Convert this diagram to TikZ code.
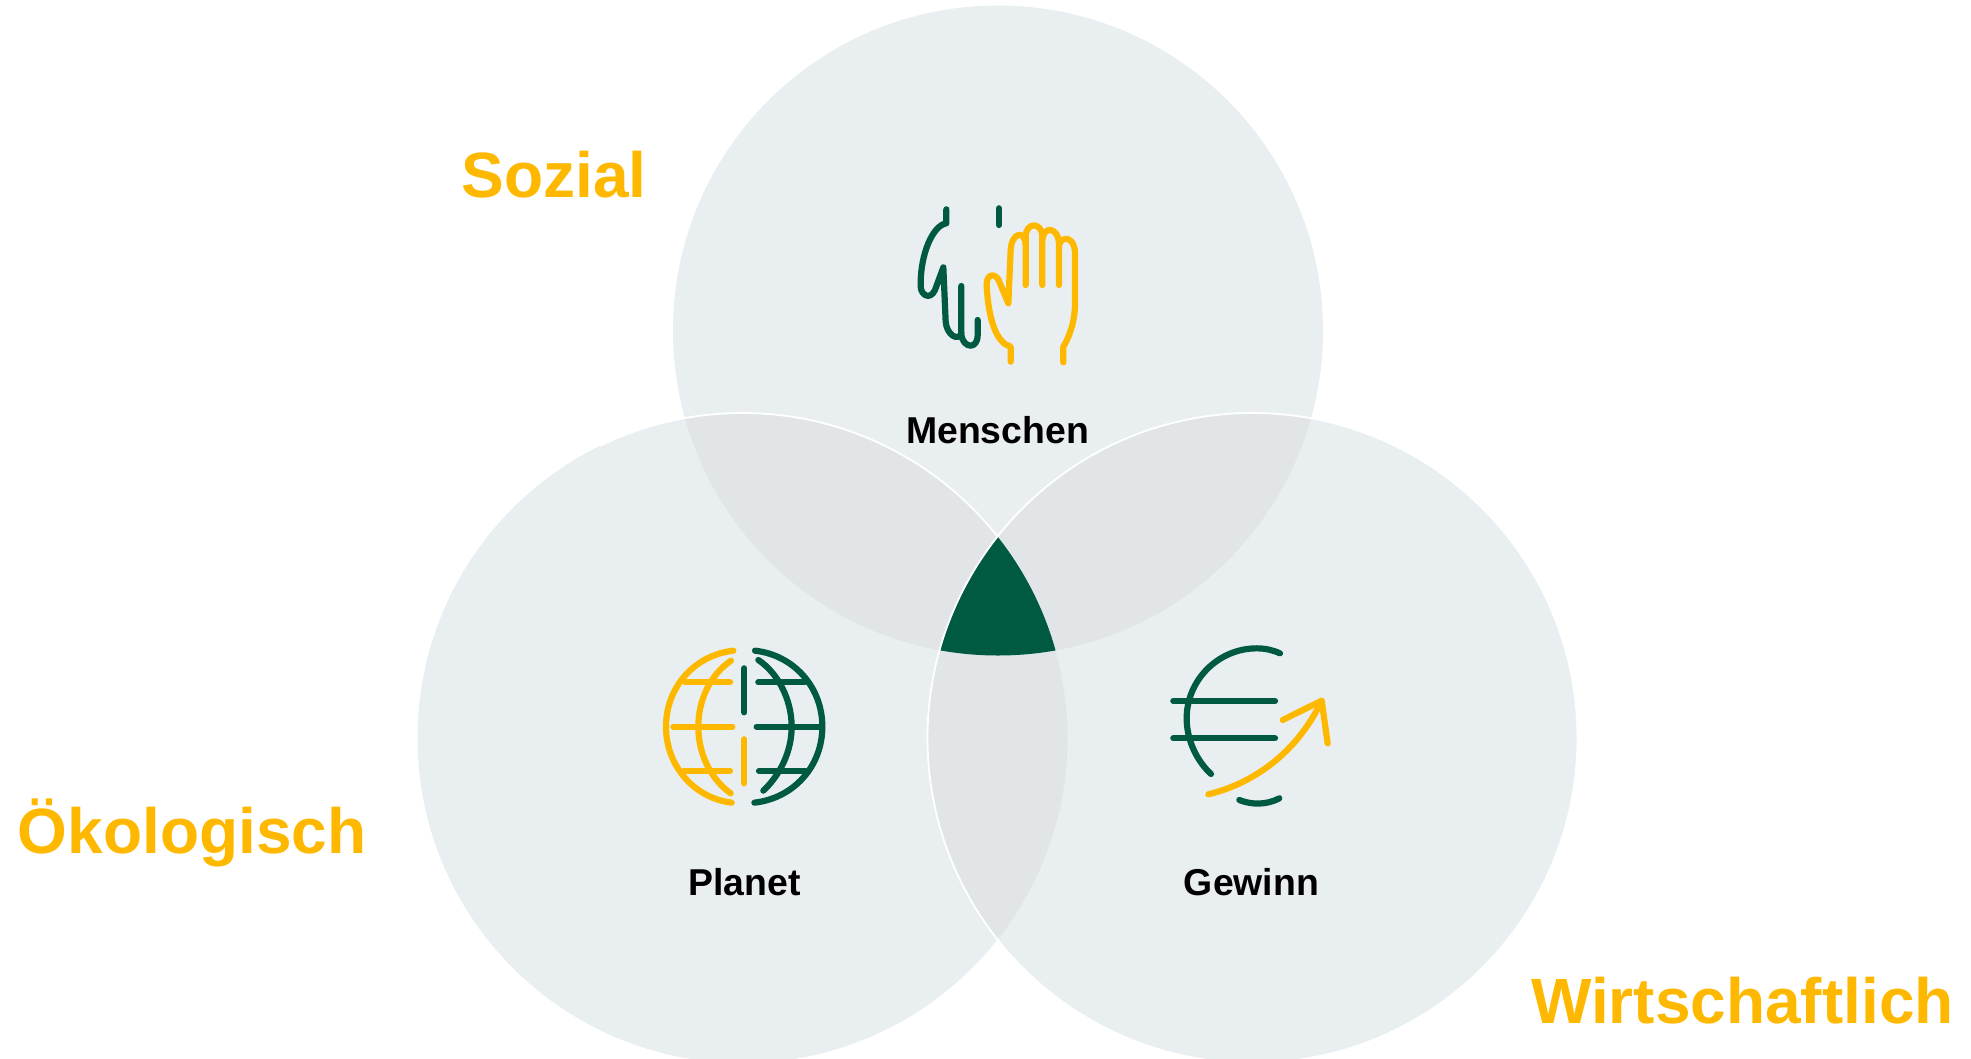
\documentclass[tikz,border=0pt]{standalone}
\usepackage{fontspec}
\setmainfont{Liberation Sans}
\definecolor{cfill}{HTML}{E9EEF1}
\definecolor{cover}{HTML}{E1E5E8}
\definecolor{cgreen}{HTML}{005A41}
\definecolor{cyellow}{HTML}{FFB800}
\def\ctop{(998,330.5) circle[radius=325]}
\def\cleft{(742.5,738) circle[radius=325]}
\def\cright{(1252.5,738) circle[radius=325]}
\tikzset{
  gline/.style={draw=cgreen,line width=6.2pt,line cap=round,line join=round},
  yline/.style={draw=cyellow,line width=6.2pt,line cap=round,line join=round},
  dimlabel/.style={font=\bfseries\fontsize{64}{70}\selectfont,text=cyellow,inner sep=0pt},
  subject/.style={font=\bfseries\fontsize{37.4}{42}\selectfont,text=black,inner sep=0pt},
  icon/.style={x=0.33333pt,y=-0.33333pt}
}
\begin{document}
\begin{tikzpicture}[x=1pt,y=-1pt]
\useasboundingbox (0,0) rectangle (1971,1058);
\clip (0,0) rectangle (1971,1058);
\fill[cfill] \cleft;
\fill[cfill] \cright;
\fill[cfill] \ctop;
\begin{scope}\clip \ctop; \fill[cover] \cleft; \fill[cover] \cright; \end{scope}
\begin{scope}\clip \cleft; \fill[cover] \cright; \end{scope}
\begin{scope}\clip \ctop; \clip \cleft; \fill[cgreen] \cright; \end{scope}
\draw[white,line width=1.8pt] \cright;
\begin{scope}\clip (600,0) rectangle (1971,535); \draw[white,line width=1.8pt] \cleft; \end{scope}

% hands
\begin{scope}[shift={(880,180)},icon]
\path[gline] (199,88) -- (199,130) .. controls (160,135) and (120,220) .. (122,320) .. controls (123,345) and (150,362) .. (165,330) -- (190,262) -- (197,425) .. controls (200,465) and (235,485) .. (244,460);
\path[gline] (244,318) -- (244,465) .. controls (250,505) and (293,510) .. (293,465) -- (293,420);
\path[gline] (357,85) -- (357,135);
\path[yline] (392,545) -- (392,500) .. controls (350,490) and (325,420) .. (320,315) .. controls (318,280) and (350,275) .. (360,310) -- (385,370) -- (392,210) .. controls (395,155) and (437,150) .. (437,195);
\path[yline] (437,315) -- (437,170) .. controls (437,125) and (487,125) .. (487,170) -- (487,315);
\path[yline] (487,180) .. controls (490,135) and (537,140) .. (537,195) -- (537,315);
\path[yline] (537,195) .. controls (545,165) and (585,170) .. (585,220) -- (585,370) .. controls (585,430) and (565,475) .. (550,500) -- (550,547);
\end{scope}

% globe
\begin{scope}[shift={(640,630)},icon]
\path[yline] (280,62) .. controls (165,75) and (78,170) .. (78,290) .. controls (78,410) and (165,505) .. (275,518);
\path[yline] (273,92) .. controls (210,135) and (175,210) .. (175,290) .. controls (175,370) and (210,445) .. (272,490);
\path[yline] (135,157) -- (270,157);
\path[yline] (100,290) -- (277,290);
\path[yline] (130,423) -- (270,423);
\path[yline] (313,328) -- (313,460);
\path[gline] (345,62) .. controls (460,75) and (547,170) .. (547,290) .. controls (547,410) and (460,505) .. (343,518);
\path[gline] (355,90) .. controls (415,130) and (455,210) .. (455,290) .. controls (455,365) and (420,435) .. (370,482);
\path[gline] (355,157) -- (495,157);
\path[gline] (350,290) -- (540,290);
\path[gline] (357,423) -- (497,423);
\path[gline] (313,115) -- (313,247);
\end{scope}

% euro
\begin{scope}[shift={(1150,630)},icon]
\path[gline] (390,70) .. controls (368,60) and (345,55) .. (320,55) .. controls (205,55) and (110,150) .. (110,265) .. controls (110,330) and (140,392) .. (183,432);
\path[gline] (268,510) .. controls (305,525) and (350,525) .. (388,505);
\path[gline] (70,213) -- (375,213);
\path[gline] (70,325) -- (375,325);
\path[yline] (175,493) .. controls (330,455) and (450,350) .. (515,212);
\path[yline] (398,270) -- (515,212) -- (533,340);
\end{scope}

\node[subject] (menschen) at (997.5,430) {Menschen};
\node[subject] (planet) at (744.5,882) {Planet};
\node[subject] (gewinn) at (1251.5,882) {Gewinn};
\node[dimlabel] (sozial) at (554,175) {Sozial};
\node[dimlabel] (oeko) at (192,833) {Ökologisch};
\node[dimlabel] (wirt) at (1742.5,1001) {Wirtschaftlich};
\end{tikzpicture}
\end{document}
